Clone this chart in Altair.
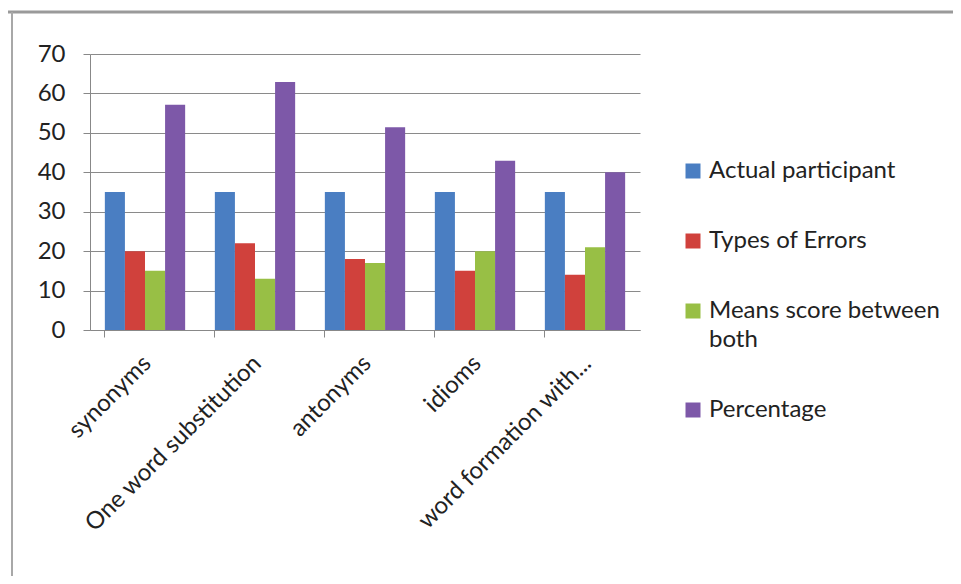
import altair as alt
import pandas as pd

categories = ["synonyms", "One word substitution", "antonyms", "idioms", "word formation with..."]
series = ["Actual participant", "Types of Errors", "Means score between both", "Percentage"]
actual_participant = [35, 35, 35, 35, 35]
types_of_errors = [20, 22, 18, 15, 14]
means_score = [15, 13, 17, 20, 21]
percentage = [57.1, 62.9, 51.4, 42.9, 40.0]
colors = ["#4A7EC2", "#D0413C", "#98BF45", "#7D58A8"]
y_ticks = [0, 10, 20, 30, 40, 50, 60, 70]

rows = []
for name, vals in zip(series, [actual_participant, types_of_errors, means_score, percentage]):
    for c, v in zip(categories, vals):
        rows.append({"category": c, "series": name, "value": v})
df = pd.DataFrame(rows)

FONT = "Lato"
FS = 24

bars = alt.Chart(df).mark_bar().encode(
    x=alt.X("category:N", sort=categories, title=None,
            scale=alt.Scale(paddingInner=0.27, paddingOuter=0.135),
            axis=alt.Axis(labelAngle=-45, labelFontSize=FS, labelFont=FONT, labelColor="#222222",
                          bandPosition=0, tickSize=7, tickColor="#888888", domainColor="#888888",
                          labelPadding=14, labelOffset=-6, labelLimit=400, grid=False)),
    xOffset=alt.XOffset("series:N", sort=series),
    y=alt.Y("value:Q", title=None,
            scale=alt.Scale(domain=[0, 70], nice=False),
            axis=alt.Axis(values=y_ticks, labelFontSize=FS, labelFont=FONT, labelColor="#222222",
                          tickSize=7, tickColor="#888888", domainColor="#888888",
                          gridColor="#8a8a8a", gridWidth=1, labelPadding=18)),
    color=alt.Color("series:N", sort=series,
                    scale=alt.Scale(domain=series, range=colors),
                    legend=alt.Legend(title=None, orient="none", legendX=591, legendY=105,
                                      labelFont=FONT, labelFontSize=FS, labelColor="#222222",
                                      symbolType="square", symbolSize=225, symbolStrokeWidth=0,
                                      rowPadding=46, labelLimit=300, labelOffset=4,
                                      labelExpr="datum.label == 'Means score between both' ? ['Means score between', 'both'] : datum.label")),
)

border = pd.DataFrame({"k": [0]})
top_line = alt.Chart(border).mark_rule(color="#9a9a9a", strokeWidth=3, clip=False).encode(
    x=alt.value(-83), x2=alt.value(863), y=alt.value(-42))
left_line = alt.Chart(border).mark_rule(color="#a8a8a8", strokeWidth=2, clip=False).encode(
    x=alt.value(-78), y=alt.value(-42), y2=alt.value(524))
bottom_line = alt.Chart(border).mark_rule(color="#ececec", strokeWidth=3, clip=False).encode(
    x=alt.value(-78), x2=alt.value(863), y=alt.value(524))

chart = alt.layer(bars, top_line, left_line, bottom_line).properties(
    width=550, height=276,
    padding={"left": 82, "top": 46, "right": 313, "bottom": 246},
    autosize=alt.AutoSizeParams(type="none"),
    background="white",
).configure(
    view={"stroke": None},
    style={"guide-label": {"lineHeight": 29}},
)

chart.save("out.html", embed_options={"renderer": "svg", "actions": False})
